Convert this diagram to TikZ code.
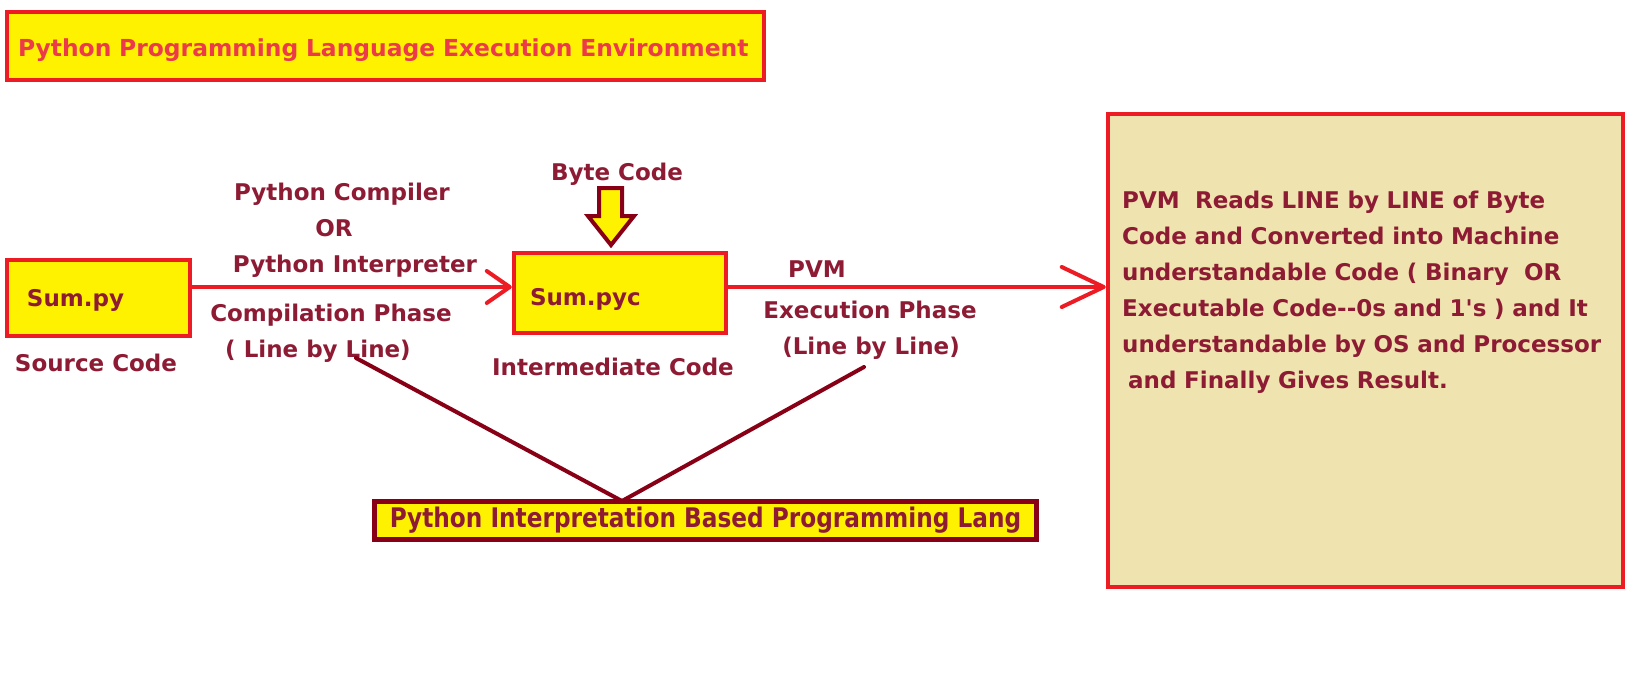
\documentclass[tikz,border=0pt]{standalone}
\usepackage{fontspec}
\setmainfont{DejaVu Sans}
\newfontfamily\narrowfont[FakeStretch=0.86]{DejaVu Sans}
\usetikzlibrary{arrows.meta,positioning}
\definecolor{pyred}{RGB}{237,28,36}
\definecolor{pyyellow}{RGB}{255,242,0}
\definecolor{pydark}{RGB}{136,0,21}
\definecolor{pytan}{RGB}{239,228,176}
\definecolor{labeltext}{RGB}{142,27,52}
\definecolor{titletext}{RGB}{237,58,74}
\tikzset{
  ybox/.style={draw=pyred, fill=pyyellow, line width=4.5pt, inner ysep=0pt, align=left},
  lbl/.style={text=labeltext, font=\fontsize{23}{27}\selectfont\bfseries, inner sep=0pt, anchor=base},
  flow/.style={draw=pyred, line width=4pt, line cap=round, -{Straight Barb[length=23pt,width=32pt,round]}},
  link/.style={draw=pydark, line width=4pt, line cap=round},
}
\begin{document}
\begin{tikzpicture}[x=1pt, y=-1pt]
  \useasboundingbox (0,0) rectangle (1640,697);
  \fill[white] (0,0) rectangle (1640,697);
  % boxes
  \node[ybox, minimum width=757pt, minimum height=68pt, inner xsep=11pt, text width=735pt,
        text height=21pt, text depth=0pt, text=titletext, font=\fontsize{23.4}{27}\selectfont\bfseries]
        (title) at (385.5,46) {Python Programming Language Execution Environment};
  \node[ybox, minimum width=183pt, minimum height=76pt, inner xsep=20pt, text width=143pt,
        text height=16pt, text depth=0pt, text=labeltext, font=\fontsize{23}{27}\selectfont\bfseries]
        (sumpy) at (98.5,298) {Sum.py};
  \node[ybox, minimum width=212pt, minimum height=80pt, inner xsep=16pt, text width=180pt,
        text height=24pt, text depth=0pt, text=labeltext, font=\fontsize{23}{27}\selectfont\bfseries]
        (sumpyc) at (620,293) {Sum.pyc};
  \node[ybox, draw=pydark, minimum width=662pt, minimum height=38pt, inner xsep=0pt, align=center,
        text height=13pt, text depth=0pt, text=labeltext, font=\narrowfont\fontsize{27}{30}\selectfont\bfseries]
        (interp) at (705.5,520.5) {Python Interpretation Based Programming Lang};
  \node[draw=pyred, fill=pytan, line width=4.5pt, minimum width=515pt, minimum height=473pt]
        (pvmbox) at (1365.5,350.5) {};
  \node[lbl, anchor=base west, text width=495pt, align=left, font=\fontsize{23}{36}\selectfont\bfseries]
        (pvmtext) at (1122,208) {PVM\ \ Reads LINE by LINE of Byte\\
        Code and Converted into Machine\\
        understandable Code ( Binary\ \ OR\\
        Executable Code-{}-0s and 1{\addfontfeatures{Ligatures=TeXOff}'}s ) and It\\
        understandable by OS and Processor\\
        \hspace{6pt}and Finally Gives Result.};
  % labels
  \node[lbl] (pcomp) at (342,200) {Python Compiler};
  \node[lbl] (por) at (334,236) {OR};
  \node[lbl] (pinterp) at (355,272) {Python Interpreter};
  \node[lbl] (cphase) at (331,321) {Compilation Phase};
  \node[lbl] (cline) at (318,357) {( Line by Line)};
  \node[lbl] (pvm) at (817,277) {PVM};
  \node[lbl] (ephase) at (870,318) {Execution Phase};
  \node[lbl] (eline) at (871,354) {(Line by Line)};
  \node[lbl] (srccode) at (96,371) {Source Code};
  \node[lbl] (midcode) at (613,375) {Intermediate Code};
  \node[lbl] (bytecode) at (617,180) {Byte Code};
  % arrows
  \coordinate (flowy) at (0,287);
  \draw[flow] (sumpy.east |- flowy) -- (sumpyc.west |- flowy);
  \draw[flow, -{Straight Barb[length=42pt,width=40pt,round]}] (sumpyc.east |- flowy) -- (pvmbox.west |- flowy);
  \draw[draw=pydark, fill=pyyellow, line width=4pt]
    (599,188) -- (622,188) -- (622,216) -- (634,216) -- (611,245) -- (588,216) -- (599,216) -- cycle;
  \coordinate (meet) at (622,501);
  \coordinate (cend) at (356,358);
  \coordinate (eend) at (864,367);
  \draw[link] (cend) -- (meet);
  \draw[link] (eend) -- (meet);
\end{tikzpicture}
\end{document}
